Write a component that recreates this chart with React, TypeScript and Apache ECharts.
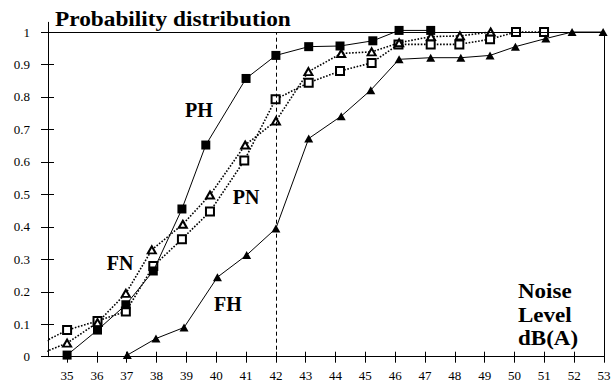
import React, { useEffect, useRef } from "react";
import * as echarts from "echarts";

const xTickValues = [35, 36, 37, 38, 39, 40, 41, 42, 43, 44, 45, 46, 47, 48, 49, 50, 51, 52, 53];
const yTickValues = [0, 0.1, 0.2, 0.3, 0.4, 0.5, 0.6, 0.7, 0.8, 0.9, 1];

const phX = [35, 36.02, 36.97, 37.89, 38.85, 39.65, 41.0, 42.0, 43.1, 44.15, 45.25, 46.13, 47.19];
const phY = [0.005, 0.082, 0.16, 0.264, 0.455, 0.652, 0.857, 0.928, 0.955, 0.957, 0.973, 1.005, 1.005];

const pnX = [34, 35, 36.02, 36.97, 37.89, 38.85, 39.79, 40.94, 41.99, 43.1, 44.15, 45.21, 46.11, 47.19, 48.15, 49.18, 50.05, 50.99];
const pnY = [0.035, 0.082, 0.11, 0.139, 0.279, 0.362, 0.447, 0.604, 0.793, 0.844, 0.88, 0.905, 0.962, 0.962, 0.962, 0.978, 1.0, 1.0];

const fnX = [34, 35, 36.02, 36.97, 37.84, 38.88, 39.79, 40.97, 42.0, 43.09, 44.19, 45.21, 46.13, 47.2, 48.17, 49.2];
const fnY = [0.005, 0.042, 0.105, 0.195, 0.329, 0.408, 0.498, 0.652, 0.726, 0.878, 0.934, 0.939, 0.967, 0.986, 0.988, 1.0];

const fhX = [37.02, 37.98, 38.92, 40.04, 41.02, 42.0, 43.1, 44.19, 45.18, 46.13, 47.19, 48.2, 49.18, 50.03, 51.05, 51.93, 52.97];
const fhY = [0.005, 0.056, 0.09, 0.245, 0.313, 0.395, 0.672, 0.741, 0.821, 0.916, 0.921, 0.921, 0.928, 0.955, 0.98, 1.0, 1.0];

const referenceX = 42;
const titleText = "Probability distribution";
const axisTitleLines = ["Noise", "Level", "dB(A)"];
const seriesNames = ["PH", "PN", "FN", "FH"];

const SERIF = "Liberation Serif";

const pair = (xs: number[], ys: number[]) => xs.map((x, i) => [x, ys[i]]);

export default function App() {
  const ref = useRef<HTMLDivElement>(null);

  useEffect(() => {
    if (!ref.current) return;
    const chart = echarts.init(ref.current, undefined, { renderer: "svg" });

    const xMin = 34.36;
    const xMax = 53;
    const yMax = 1.03;

    const labelPos: Record<string, [number, number]> = {
      PH: [199, 110],
      PN: [246, 197],
      FN: [120, 263],
      FH: [228, 304],
    };

    const commonX = {
      type: "value" as const,
      min: xMin,
      max: xMax,
      position: "bottom" as const,
      splitLine: { show: false },
    };
    const commonY = {
      type: "value" as const,
      min: 0,
      max: yMax,
      position: "left" as const,
      splitLine: { show: false },
    };

    const option: any = {
      animation: false,
      backgroundColor: "#fff",
      textStyle: { fontFamily: SERIF },
      grid: {
        left: 48,
        right: 11,
        top: 22.3,
        bottom: 26.3,
        containLabel: false,
        outerBoundsMode: "none",
      },
      xAxis: [
        {
          ...commonX,
          axisLine: { show: true, onZero: false, lineStyle: { color: "#000", width: 1 } },
          axisTick: {
            show: true,
            inside: false,
            length: 6,
            customValues: xTickValues,
            lineStyle: { color: "#000", width: 1 },
          },
          axisLabel: {
            show: true,
            customValues: xTickValues,
            color: "#000",
            fontFamily: SERIF,
            fontSize: 13,
            margin: 12,
          },
        },
        {
          ...commonX,
          axisLine: { show: false },
          axisTick: {
            show: true,
            inside: true,
            length: 5,
            customValues: xTickValues,
            lineStyle: { color: "#000", width: 1 },
          },
          axisLabel: { show: false },
        },
      ],
      yAxis: [
        {
          ...commonY,
          axisLine: { show: true, onZero: false, lineStyle: { color: "#000", width: 1 } },
          axisTick: {
            show: true,
            inside: false,
            length: 7,
            customValues: yTickValues,
            lineStyle: { color: "#000", width: 1 },
          },
          axisLabel: {
            show: true,
            customValues: yTickValues,
            color: "#000",
            fontFamily: SERIF,
            fontSize: 13,
            margin: 18,
          },
        },
        {
          ...commonY,
          axisLine: { show: false },
          axisTick: {
            show: true,
            inside: true,
            length: 6,
            customValues: yTickValues,
            lineStyle: { color: "#000", width: 1 },
          },
          axisLabel: { show: false },
        },
      ],
      series: [
        {
          name: "PN",
          type: "line",
          data: pair(pnX, pnY),
          symbol: "emptyRect",
          symbolSize: 8,
          showAllSymbol: true,
          clip: true,
          lineStyle: { color: "#000", width: 1.6, type: [1.6, 1.6] },
          itemStyle: { color: "#000", borderColor: "#000", borderWidth: 1 },
          z: 2,
        },
        {
          name: "FN",
          type: "line",
          data: pair(fnX, fnY),
          symbol: "emptyTriangle",
          symbolSize: [8, 7],
          showAllSymbol: true,
          clip: true,
          lineStyle: { color: "#000", width: 1.6, type: [1.6, 1.6] },
          itemStyle: { color: "#000", borderColor: "#000", borderWidth: 1 },
          z: 2,
        },
        {
          name: "PH",
          type: "line",
          data: pair(phX, phY),
          symbol: "rect",
          symbolSize: 9,
          showAllSymbol: true,
          clip: true,
          lineStyle: { color: "#000", width: 1 },
          itemStyle: { color: "#000", borderWidth: 0 },
          z: 3,
          markLine: {
            silent: true,
            symbol: ["none", "none"],
            label: { show: false },
            animation: false,
            data: [
              [
                { coord: [referenceX, 0], lineStyle: { color: "#000", width: 1, type: [4, 3] } },
                { coord: [referenceX, 1] },
              ],
            ],
          },
        },
        {
          name: "FH",
          type: "line",
          data: pair(fhX, fhY),
          symbol: "triangle",
          symbolSize: [9, 8],
          showAllSymbol: true,
          clip: true,
          lineStyle: { color: "#000", width: 1 },
          itemStyle: { color: "#000", borderWidth: 0 },
          z: 3,
          markLine: {
            silent: true,
            symbol: ["none", "none"],
            label: { show: false },
            animation: false,
            lineStyle: { color: "#000", width: 1, type: "solid" },
            data: [
              { yAxis: 1, lineStyle: { color: "#000", width: 1, type: "solid" } },
              [
                { coord: [xMax, 0], lineStyle: { color: "#000", width: 1, type: "solid" } },
                { coord: [xMax, 1] },
              ],
            ],
          },
        },
      ],
      graphic: [
        {
          type: "text",
          x: 55,
          y: 19,
          scaleX: 1.11,
          style: {
            text: titleText,
            fill: "#000",
            fontFamily: SERIF,
            fontWeight: "bold",
            fontSize: 21,
            textAlign: "left",
            textVerticalAlign: "middle",
          },
        },
        ...axisTitleLines.map((t, i) => ({
          type: "text",
          x: 518,
          y: 292 + i * 23.5,
          scaleX: 1.15,
          style: {
            text: t,
            fill: "#000",
            fontFamily: SERIF,
            fontWeight: "bold",
            fontSize: 20,
            textAlign: "left",
            textVerticalAlign: "middle",
          },
        })),
        ...seriesNames.map((n) => ({
          type: "text",
          x: labelPos[n][0],
          y: labelPos[n][1],
          style: {
            text: n,
            fill: "#000",
            fontFamily: SERIF,
            fontWeight: "bold",
            fontSize: 20,
            textAlign: "center",
            textVerticalAlign: "middle",
          },
        })),
      ],
    };

    chart.setOption(option);
    return () => chart.dispose();
  }, []);

  return (
    <div
      ref={ref}
      style={{ position: "absolute", left: 0, top: 0, width: 615, height: 383, background: "#fff" }}
    />
  );
}
